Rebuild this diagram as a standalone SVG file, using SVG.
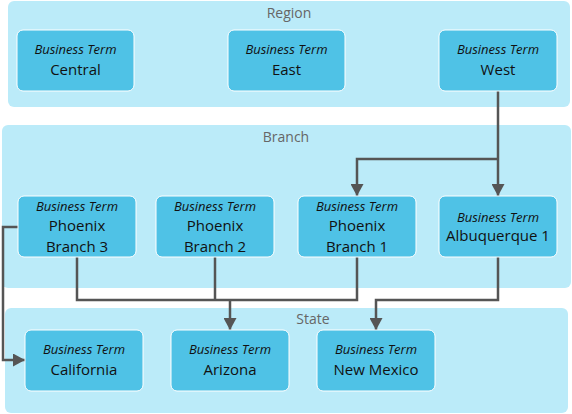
<svg xmlns="http://www.w3.org/2000/svg" width="572" height="414" viewBox="0 0 572 414">
<style>
.cont{fill:#bbebf9;}
.node{fill:#4fc2e6;stroke:#ffffff;stroke-width:1;}
.clabel{font-family:"Open Sans","Liberation Sans",sans-serif;font-size:14px;fill:#666666;text-anchor:middle;}
.bt{font-family:"Open Sans","Liberation Sans",sans-serif;font-size:13px;font-style:italic;fill:#111111;text-anchor:middle;}
.nm{font-family:"Open Sans","Liberation Sans",sans-serif;font-size:15px;fill:#111111;text-anchor:middle;}
.conn{fill:none;stroke:#555555;stroke-width:2.5;}
</style>
<defs>
<marker id="arr" markerWidth="12" markerHeight="13" refX="12" refY="6.5" orient="auto" markerUnits="userSpaceOnUse">
<path d="M0,0 L12,6.5 L0,13 Z" fill="#555555"/>
</marker>
</defs>
<g id="region">
<rect class="cont" x="8" y="1" width="562" height="106" rx="6"/>
<text class="clabel" x="289" y="18">Region</text>
</g>
<g id="branch">
<rect class="cont" x="2" y="125" width="569" height="163" rx="6"/>
<text class="clabel" x="286" y="142">Branch</text>
</g>
<g id="state">
<rect class="cont" x="5" y="308" width="563" height="105" rx="6"/>
<text class="clabel" x="313" y="324">State</text>
</g>
<g id="connectors">
<path class="conn" d="M498,91 V196" marker-end="url(#arr)"/>
<path class="conn" d="M498,159 H357 V196" marker-end="url(#arr)"/>
<path class="conn" d="M18,227 H3 V360 H25" marker-end="url(#arr)"/>
<path class="conn" d="M77,257 V300 H357 V257"/>
<path class="conn" d="M215,257 V300"/>
<path class="conn" d="M230,300 V330" marker-end="url(#arr)"/>
<path class="conn" d="M498,257 V300 H376 V330" marker-end="url(#arr)"/>
</g>
<g id="central">
<rect class="node" x="17" y="30" width="117" height="61" rx="6"/>
<text class="bt" x="75.5" y="54">Business Term</text>
<text class="nm" x="75.5" y="74.5">Central</text>
</g>
<g id="east">
<rect class="node" x="228" y="30" width="117" height="61" rx="6"/>
<text class="bt" x="286.5" y="54">Business Term</text>
<text class="nm" x="286.5" y="74.5">East</text>
</g>
<g id="west">
<rect class="node" x="439" y="30" width="118" height="61" rx="6"/>
<text class="bt" x="498" y="54">Business Term</text>
<text class="nm" x="498" y="74.5">West</text>
</g>
<g id="phoenix3">
<rect class="node" x="18" y="196" width="118" height="61" rx="6"/>
<text class="bt" x="77" y="210.5">Business Term</text>
<text class="nm" x="77" y="230.5">Phoenix</text>
<text class="nm" x="77" y="251.5">Branch 3</text>
</g>
<g id="phoenix2">
<rect class="node" x="156" y="196" width="118" height="61" rx="6"/>
<text class="bt" x="215" y="210.5">Business Term</text>
<text class="nm" x="215" y="230.5">Phoenix</text>
<text class="nm" x="215" y="251.5">Branch 2</text>
</g>
<g id="phoenix1">
<rect class="node" x="298" y="196" width="118" height="61" rx="6"/>
<text class="bt" x="357" y="210.5">Business Term</text>
<text class="nm" x="357" y="230.5">Phoenix</text>
<text class="nm" x="357" y="251.5">Branch 1</text>
</g>
<g id="albuquerque1">
<rect class="node" x="439" y="196" width="118" height="61" rx="6"/>
<text class="bt" x="498" y="221.5">Business Term</text>
<text class="nm" x="498" y="240.5">Albuquerque 1</text>
</g>
<g id="california">
<rect class="node" x="25" y="330" width="118" height="61" rx="6"/>
<text class="bt" x="84" y="354">Business Term</text>
<text class="nm" x="84" y="374.5">California</text>
</g>
<g id="arizona">
<rect class="node" x="171" y="330" width="118" height="61" rx="6"/>
<text class="bt" x="230" y="354">Business Term</text>
<text class="nm" x="230" y="374.5">Arizona</text>
</g>
<g id="newmexico">
<rect class="node" x="317" y="330" width="118" height="61" rx="6"/>
<text class="bt" x="376" y="354">Business Term</text>
<text class="nm" x="376" y="374.5">New Mexico</text>
</g>
</svg>
